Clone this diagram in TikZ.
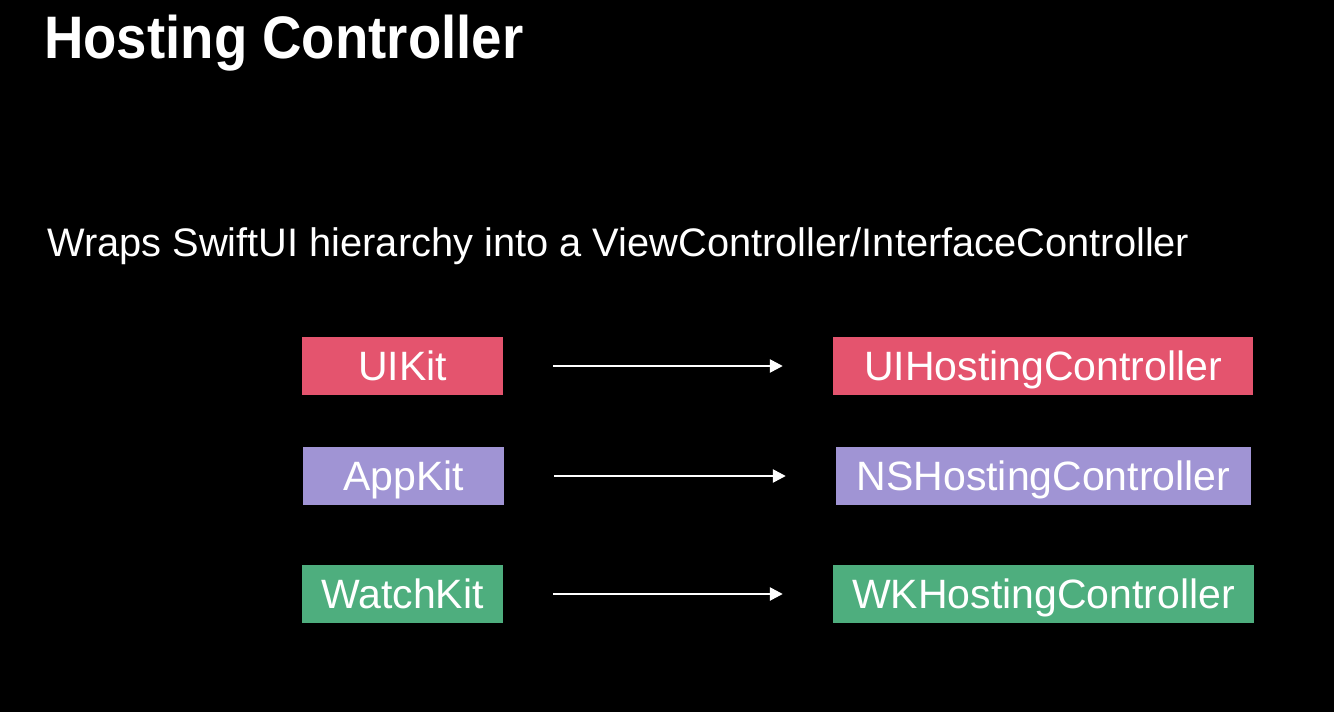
\documentclass[tikz,border=0pt]{standalone}
\usepackage{fontspec}
\setmainfont{Liberation Sans}
\usetikzlibrary{arrows.meta}
\definecolor{kpink}{RGB}{228,84,110}
\definecolor{kpurple}{RGB}{160,148,212}
\definecolor{kgreen}{RGB}{78,174,126}
\tikzset{
  kitbox/.style={rectangle, inner sep=0pt, text=white, font=\fontsize{41}{48}\selectfont,
    text height=29pt, text depth=0pt, minimum height=58pt},
  flow/.style={draw=white, line width=2.5pt, -{Triangle[length=13pt,width=13pt]},
    shorten <=50pt, shorten >=50pt}
}
\begin{document}
\begin{tikzpicture}[x=1pt,y=-1pt]
\fill[black] (0,0) rectangle (1334,712);
\useasboundingbox (0,0) rectangle (1334,712);
\node[anchor=base west, inner sep=0pt, text=white] (title) at (44,58)
  {\scalebox{0.91}[1]{\fontsize{60}{70}\selectfont\bfseries Hosting Controller}};
\node[anchor=base west, inner sep=0pt, text=white] (sub) at (47,256)
  {\fontsize{39.8}{46}\selectfont Wraps SwiftUI hierarchy into a ViewController/InterfaceController};
\node[kitbox, fill=kpink, minimum width=201pt] (uikit) at (402.5,366) {UIKit};
\node[kitbox, fill=kpink, minimum width=420pt] (uihc) at (1043,366) {UIHostingController};
\node[kitbox, fill=kpurple, minimum width=201pt] (appkit) at (403.5,476) {AppKit};
\node[kitbox, fill=kpurple, minimum width=415pt] (nshc) at (1043.5,476) {NSHostingController};
\node[kitbox, fill=kgreen, minimum width=201pt] (watchkit) at (402.5,594) {WatchKit};
\node[kitbox, fill=kgreen, minimum width=421pt] (wkhc) at (1043.5,594) {WKHostingController};
\draw[flow] (uikit) -- (uihc);
\draw[flow] (appkit) -- (nshc);
\draw[flow] (watchkit) -- (wkhc);
\end{tikzpicture}
\end{document}
